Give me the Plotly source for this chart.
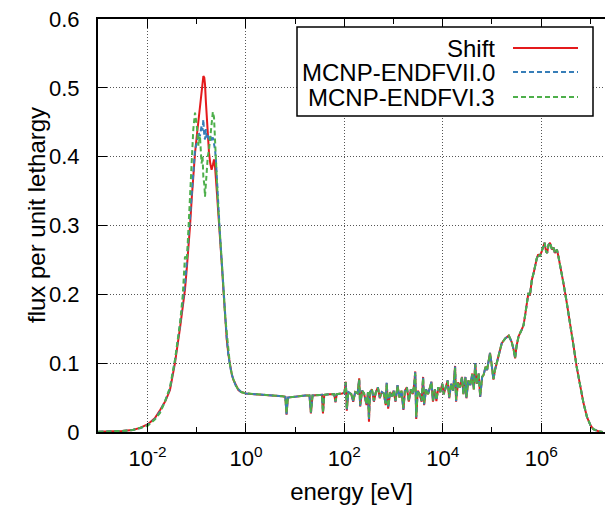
import plotly.graph_objects as go

# ---------------- data ----------------
energy_ev = [
    1.0e-3, 2.0e-3, 3.0e-3, 5.0e-3, 7.0e-3, 1.0e-2, 1.4e-2, 1.8e-2, 2.3e-2, 2.85e-2,
    3.6e-2, 4.6e-2, 5.2e-2, 5.75e-2, 6.3e-2, 6.8e-2, 7.3e-2, 7.9e-2, 8.5e-2, 9.2e-2,
    1.0e-1, 1.08e-1, 1.16e-1, 1.25e-1, 1.31e-1, 1.36e-1, 1.42e-1, 1.47e-1, 1.53e-1, 1.58e-1,
    1.67e-1, 1.77e-1, 1.88e-1, 2.0e-1, 2.12e-1, 2.24e-1, 2.35e-1, 2.45e-1, 2.58e-1, 2.73e-1,
    2.9e-1, 3.05e-1, 3.25e-1, 3.47e-1, 3.75e-1, 4.07e-1, 4.4e-1, 4.73e-1, 5.1e-1, 5.52e-1,
    6.2e-1, 7.0e-1, 8.0e-1, 8.8e-1,
    1.0, 1.5, 2.0, 3.0, 4.2, 5.5, 6.3, 6.67, 7.1, 9.0,
    12.0, 16.0, 19.5, 20.9, 22.5, 30.0, 35.0, 36.7, 39.0, 50.0,
    62.0, 66.0, 70.0, 90.0,
    100, 107, 112, 120, 138, 151, 166, 186, 200, 209,
    229, 251, 282, 302, 316, 331, 363, 398, 437, 479,
    525, 575, 631, 692, 724, 776, 851, 933, 1000, 1096,
    1202, 1318, 1445, 1585, 1698, 1862, 2042, 2239, 2455, 2630,
    2754, 2884, 3090, 3388, 3715, 3981, 4169, 4571, 5012, 5495,
    5888, 6310, 6918, 7413, 8128, 8913, 9772, 10470, 11480, 12590,
    13490, 14790, 16220, 17780, 18620, 20420, 22390, 24550, 26300, 28840,
    30200, 33110, 36310, 39810, 42660, 45710, 48980, 53700, 57540, 63100,
    67600, 74130, 79430, 87100, 91200, 97700, 1.07e5, 1.15e5, 1.26e5, 1.41e5,
    1.58e5, 1.86e5, 2.19e5, 2.51e5, 2.75e5, 2.95e5, 3.16e5, 3.47e5, 3.98e5, 4.37e5,
    4.68e5, 5.13e5, 5.5e5, 5.89e5, 6.46e5, 7.08e5, 7.59e5, 8.13e5, 8.71e5, 9.33e5,
    1.02e6, 1.1e6, 1.17e6, 1.26e6, 1.32e6, 1.41e6, 1.51e6, 1.66e6, 1.78e6, 1.9e6,
    2.09e6, 2.24e6, 2.45e6, 2.82e6, 3.31e6, 3.89e6, 4.57e6, 5.25e6, 6.17e6, 7.24e6,
    8.51e6, 1.0e7, 1.15e7, 1.48e7, 1.78e7,
]

flux_shift = [
    0.0003, 0.0008, 0.0015, 0.003, 0.006, 0.011, 0.020, 0.032, 0.045, 0.061,
    0.100, 0.153, 0.180, 0.207, 0.240, 0.280, 0.300, 0.340, 0.380, 0.405,
    0.430, 0.450, 0.473, 0.490, 0.505, 0.517, 0.515, 0.505, 0.480, 0.459,
    0.430, 0.406, 0.390, 0.381, 0.388, 0.396, 0.385, 0.372, 0.345, 0.319,
    0.295, 0.270, 0.240, 0.207, 0.170, 0.134, 0.112, 0.095, 0.085, 0.076,
    0.068, 0.061, 0.058, 0.057,
    0.056, 0.055, 0.0545, 0.054, 0.053, 0.052, 0.051, 0.025, 0.050, 0.051,
    0.052, 0.053, 0.053, 0.027, 0.053, 0.054, 0.054, 0.027, 0.054, 0.055,
    0.055, 0.043, 0.055, 0.056,
    0.057, 0.073, 0.031, 0.058, 0.055, 0.044, 0.058, 0.056, 0.078, 0.037,
    0.060, 0.056, 0.039, 0.058, 0.015, 0.058, 0.062, 0.044, 0.058, 0.065,
    0.049, 0.058, 0.056, 0.039, 0.071, 0.034, 0.058, 0.052, 0.060, 0.044,
    0.068, 0.050, 0.060, 0.032, 0.060, 0.065, 0.044, 0.062, 0.055, 0.070,
    0.088, 0.019, 0.060, 0.055, 0.044, 0.080, 0.039, 0.062, 0.055, 0.065,
    0.073, 0.044, 0.062, 0.045, 0.065, 0.058, 0.070, 0.055, 0.066, 0.075,
    0.049, 0.070, 0.060, 0.096, 0.044, 0.072, 0.065, 0.080, 0.055, 0.080,
    0.049, 0.075, 0.068, 0.085, 0.062, 0.100, 0.070, 0.085, 0.051, 0.080,
    0.083, 0.095, 0.090, 0.110, 0.115, 0.100, 0.076, 0.090, 0.100, 0.115,
    0.129, 0.136, 0.140, 0.131, 0.120, 0.107, 0.125, 0.139, 0.148, 0.155,
    0.168, 0.185, 0.202, 0.198, 0.221, 0.232, 0.243, 0.252, 0.258, 0.255,
    0.262, 0.270, 0.275, 0.262, 0.260, 0.272, 0.275, 0.265, 0.268, 0.260,
    0.265, 0.255, 0.241, 0.217, 0.188, 0.158, 0.124, 0.095, 0.066, 0.042,
    0.022, 0.010, 0.004, 0.001, 0.0,
]

flux_endf7 = [
    0.0003, 0.0008, 0.0015, 0.003, 0.0055, 0.010, 0.019, 0.030, 0.046, 0.063,
    0.103, 0.158, 0.190, 0.215, 0.250, 0.285, 0.310, 0.350, 0.380, 0.410,
    0.420, 0.435, 0.430, 0.445, 0.438, 0.454, 0.430, 0.425, 0.440, 0.428,
    0.432, 0.425, 0.430, 0.422, 0.428, 0.420, 0.410, 0.395, 0.360, 0.325,
    0.298, 0.272, 0.238, 0.210, 0.168, 0.136, 0.110, 0.096, 0.084, 0.077,
    0.067, 0.062, 0.058, 0.057,
    0.056, 0.055, 0.0545, 0.054, 0.053, 0.052, 0.051, 0.026, 0.050, 0.051,
    0.052, 0.053, 0.053, 0.028, 0.053, 0.054, 0.054, 0.028, 0.054, 0.055,
    0.055, 0.044, 0.055, 0.056,
    0.057, 0.072, 0.032, 0.058, 0.055, 0.045, 0.058, 0.056, 0.077, 0.038,
    0.060, 0.056, 0.040, 0.058, 0.018, 0.058, 0.062, 0.045, 0.058, 0.065,
    0.050, 0.058, 0.056, 0.040, 0.072, 0.035, 0.058, 0.052, 0.060, 0.045,
    0.068, 0.050, 0.060, 0.033, 0.060, 0.065, 0.045, 0.062, 0.055, 0.070,
    0.087, 0.021, 0.060, 0.055, 0.045, 0.079, 0.040, 0.062, 0.055, 0.065,
    0.073, 0.045, 0.062, 0.046, 0.065, 0.058, 0.070, 0.055, 0.066, 0.075,
    0.050, 0.070, 0.060, 0.095, 0.045, 0.072, 0.065, 0.080, 0.055, 0.080,
    0.050, 0.075, 0.068, 0.085, 0.062, 0.100, 0.070, 0.085, 0.051, 0.080,
    0.083, 0.095, 0.090, 0.110, 0.115, 0.100, 0.076, 0.090, 0.100, 0.115,
    0.129, 0.136, 0.140, 0.131, 0.120, 0.107, 0.125, 0.139, 0.148, 0.155,
    0.168, 0.185, 0.202, 0.198, 0.221, 0.232, 0.243, 0.252, 0.258, 0.255,
    0.262, 0.270, 0.275, 0.262, 0.260, 0.272, 0.275, 0.265, 0.268, 0.260,
    0.265, 0.255, 0.241, 0.217, 0.188, 0.158, 0.124, 0.095, 0.066, 0.042,
    0.022, 0.010, 0.004, 0.001, 0.0,
]

flux_endf6 = [
    0.0003, 0.0008, 0.0014, 0.003, 0.0055, 0.009, 0.018, 0.028, 0.046, 0.065,
    0.105, 0.160, 0.200, 0.255, 0.250, 0.300, 0.330, 0.380, 0.440, 0.464,
    0.445, 0.416, 0.430, 0.390, 0.400, 0.370, 0.360, 0.342, 0.365, 0.380,
    0.400, 0.410, 0.430, 0.440, 0.465, 0.457, 0.430, 0.400, 0.360, 0.325,
    0.300, 0.275, 0.245, 0.212, 0.170, 0.140, 0.115, 0.097, 0.086, 0.077,
    0.068, 0.061, 0.058, 0.057,
    0.056, 0.055, 0.0545, 0.054, 0.053, 0.052, 0.051, 0.027, 0.050, 0.051,
    0.052, 0.053, 0.053, 0.029, 0.053, 0.054, 0.054, 0.029, 0.054, 0.055,
    0.055, 0.045, 0.055, 0.056,
    0.057, 0.072, 0.034, 0.058, 0.055, 0.046, 0.058, 0.056, 0.076, 0.040,
    0.060, 0.056, 0.041, 0.058, 0.021, 0.058, 0.062, 0.046, 0.058, 0.064,
    0.051, 0.058, 0.056, 0.041, 0.070, 0.037, 0.058, 0.052, 0.060, 0.046,
    0.067, 0.050, 0.060, 0.035, 0.060, 0.064, 0.046, 0.062, 0.055, 0.069,
    0.085, 0.023, 0.060, 0.055, 0.046, 0.078, 0.042, 0.062, 0.055, 0.065,
    0.072, 0.046, 0.062, 0.047, 0.065, 0.058, 0.070, 0.055, 0.066, 0.074,
    0.051, 0.070, 0.060, 0.093, 0.047, 0.072, 0.065, 0.079, 0.055, 0.079,
    0.051, 0.075, 0.068, 0.084, 0.062, 0.098, 0.070, 0.085, 0.053, 0.080,
    0.083, 0.095, 0.090, 0.110, 0.114, 0.100, 0.077, 0.090, 0.100, 0.115,
    0.129, 0.136, 0.140, 0.131, 0.120, 0.108, 0.125, 0.139, 0.148, 0.155,
    0.168, 0.185, 0.202, 0.198, 0.221, 0.232, 0.243, 0.252, 0.258, 0.255,
    0.262, 0.270, 0.275, 0.262, 0.260, 0.272, 0.275, 0.265, 0.268, 0.260,
    0.265, 0.255, 0.241, 0.217, 0.188, 0.158, 0.124, 0.095, 0.066, 0.042,
    0.022, 0.010, 0.004, 0.001, 0.0,
]

series_names = ["Shift", "MCNP-ENDFVII.0", "MCNP-ENDFVI.3"]
series_flux = [flux_shift, flux_endf7, flux_endf6]
series_colors = ["#e41a1c", "#377eb8", "#4daf4a"]
series_dash = ["solid", "5px,3px", "5px,3px"]

x_tick_vals = [1e-2, 1e0, 1e2, 1e4, 1e6]
x_tick_text = ["10<sup>-2</sup>", "10<sup>0</sup>", "10<sup>2</sup>", "10<sup>4</sup>", "10<sup>6</sup>"]
x_minor_vals = [1e-3, 1e-1, 1e1, 1e3, 1e5, 1e7]
y_tick_vals = [0, 0.1, 0.2, 0.3, 0.4, 0.5, 0.6]
y_tick_text = ["0", "0.1", "0.2", "0.3", "0.4", "0.5", "0.6"]

# ---------------- figure ----------------
FONT = "Liberation Sans, Arial, Helvetica, sans-serif"
fig = go.Figure()
for name, flux, color, dash in zip(series_names, series_flux, series_colors, series_dash):
    fig.add_trace(go.Scatter(
        x=energy_ev, y=flux, mode="lines", name=name, showlegend=False,
        line=dict(color=color, width=2, dash=dash),
    ))

# gnuplot-style key: text on the left, line sample on the right
L, R, T, B = 98, 605, 19, 432
W, H = R - L, B - T
def px(xp):
    return (xp - L) / W
def py(yp):
    return (B - yp) / H

fig.add_shape(type="rect", xref="paper", yref="paper",
              x0=px(297), x1=px(593), y0=py(116), y1=py(27),
              line=dict(color="black", width=1.5), fillcolor="white", layer="above")
for i, (name, color, dash) in enumerate(zip(series_names, series_colors, series_dash)):
    yc = [48, 72, 97][i]
    fig.add_annotation(xref="paper", yref="paper", x=px(497), y=py(yc),
                       text=name, showarrow=False, xanchor="right", yanchor="middle",
                       height=20, valign="middle",
                       font=dict(family=FONT, size=24, color="black"))
    fig.add_shape(type="line", xref="paper", yref="paper",
                  x0=px(513), x1=px(578), y0=py(yc), y1=py(yc),
                  line=dict(color=color, width=2, dash=dash), layer="above")

# y-axis title placed like gnuplot's ylabel
fig.add_annotation(xref="paper", yref="paper", x=px(37), y=py(215),
                   text="flux per unit lethargy", textangle=-90, showarrow=False,
                   xanchor="center", yanchor="middle",
                   font=dict(family=FONT, size=24, color="black"))

fig.update_layout(
    width=605, height=510,
    margin=dict(l=L, r=605 - R, t=T, b=510 - B),
    paper_bgcolor="white", plot_bgcolor="white",
    font=dict(family=FONT, size=22, color="black"),
    xaxis=dict(
        type="log", range=[-3.008, 7.297],
        tickmode="array", tickvals=x_tick_vals, ticktext=x_tick_text,
        ticks="inside", ticklen=9, tickwidth=1, tickcolor="black",
        minor=dict(tickmode="array", tickvals=x_minor_vals, ticks="inside",
                   ticklen=5, tickwidth=1, tickcolor="black", showgrid=False),
        showline=True, linewidth=2, linecolor="black", mirror="ticks",
        showgrid=True, gridcolor="#555555", gridwidth=1, griddash="1px,2px",
        zeroline=False, automargin=False,
        tickfont=dict(family=FONT, size=22, color="black"),
        ticklabelstandoff=6,
        title=dict(text="energy [eV]", font=dict(family=FONT, size=24, color="black"), standoff=13),
    ),
    yaxis=dict(
        range=[0, 0.6],
        tickmode="array", tickvals=y_tick_vals, ticktext=y_tick_text,
        ticks="inside", ticklen=9, tickwidth=1, tickcolor="black",
        showline=True, linewidth=2, linecolor="black", mirror=False,
        showgrid=True, gridcolor="#555555", gridwidth=1, griddash="1px,2px",
        zeroline=False, automargin=False,
        tickfont=dict(family=FONT, size=22, color="black"),
        ticklabelstandoff=12,
    ),
)

fig.write_html("out.html", config={"displayModeBar": False, "staticPlot": True},
               post_script="document.body.style.margin='0';document.body.style.overflow='hidden';")
